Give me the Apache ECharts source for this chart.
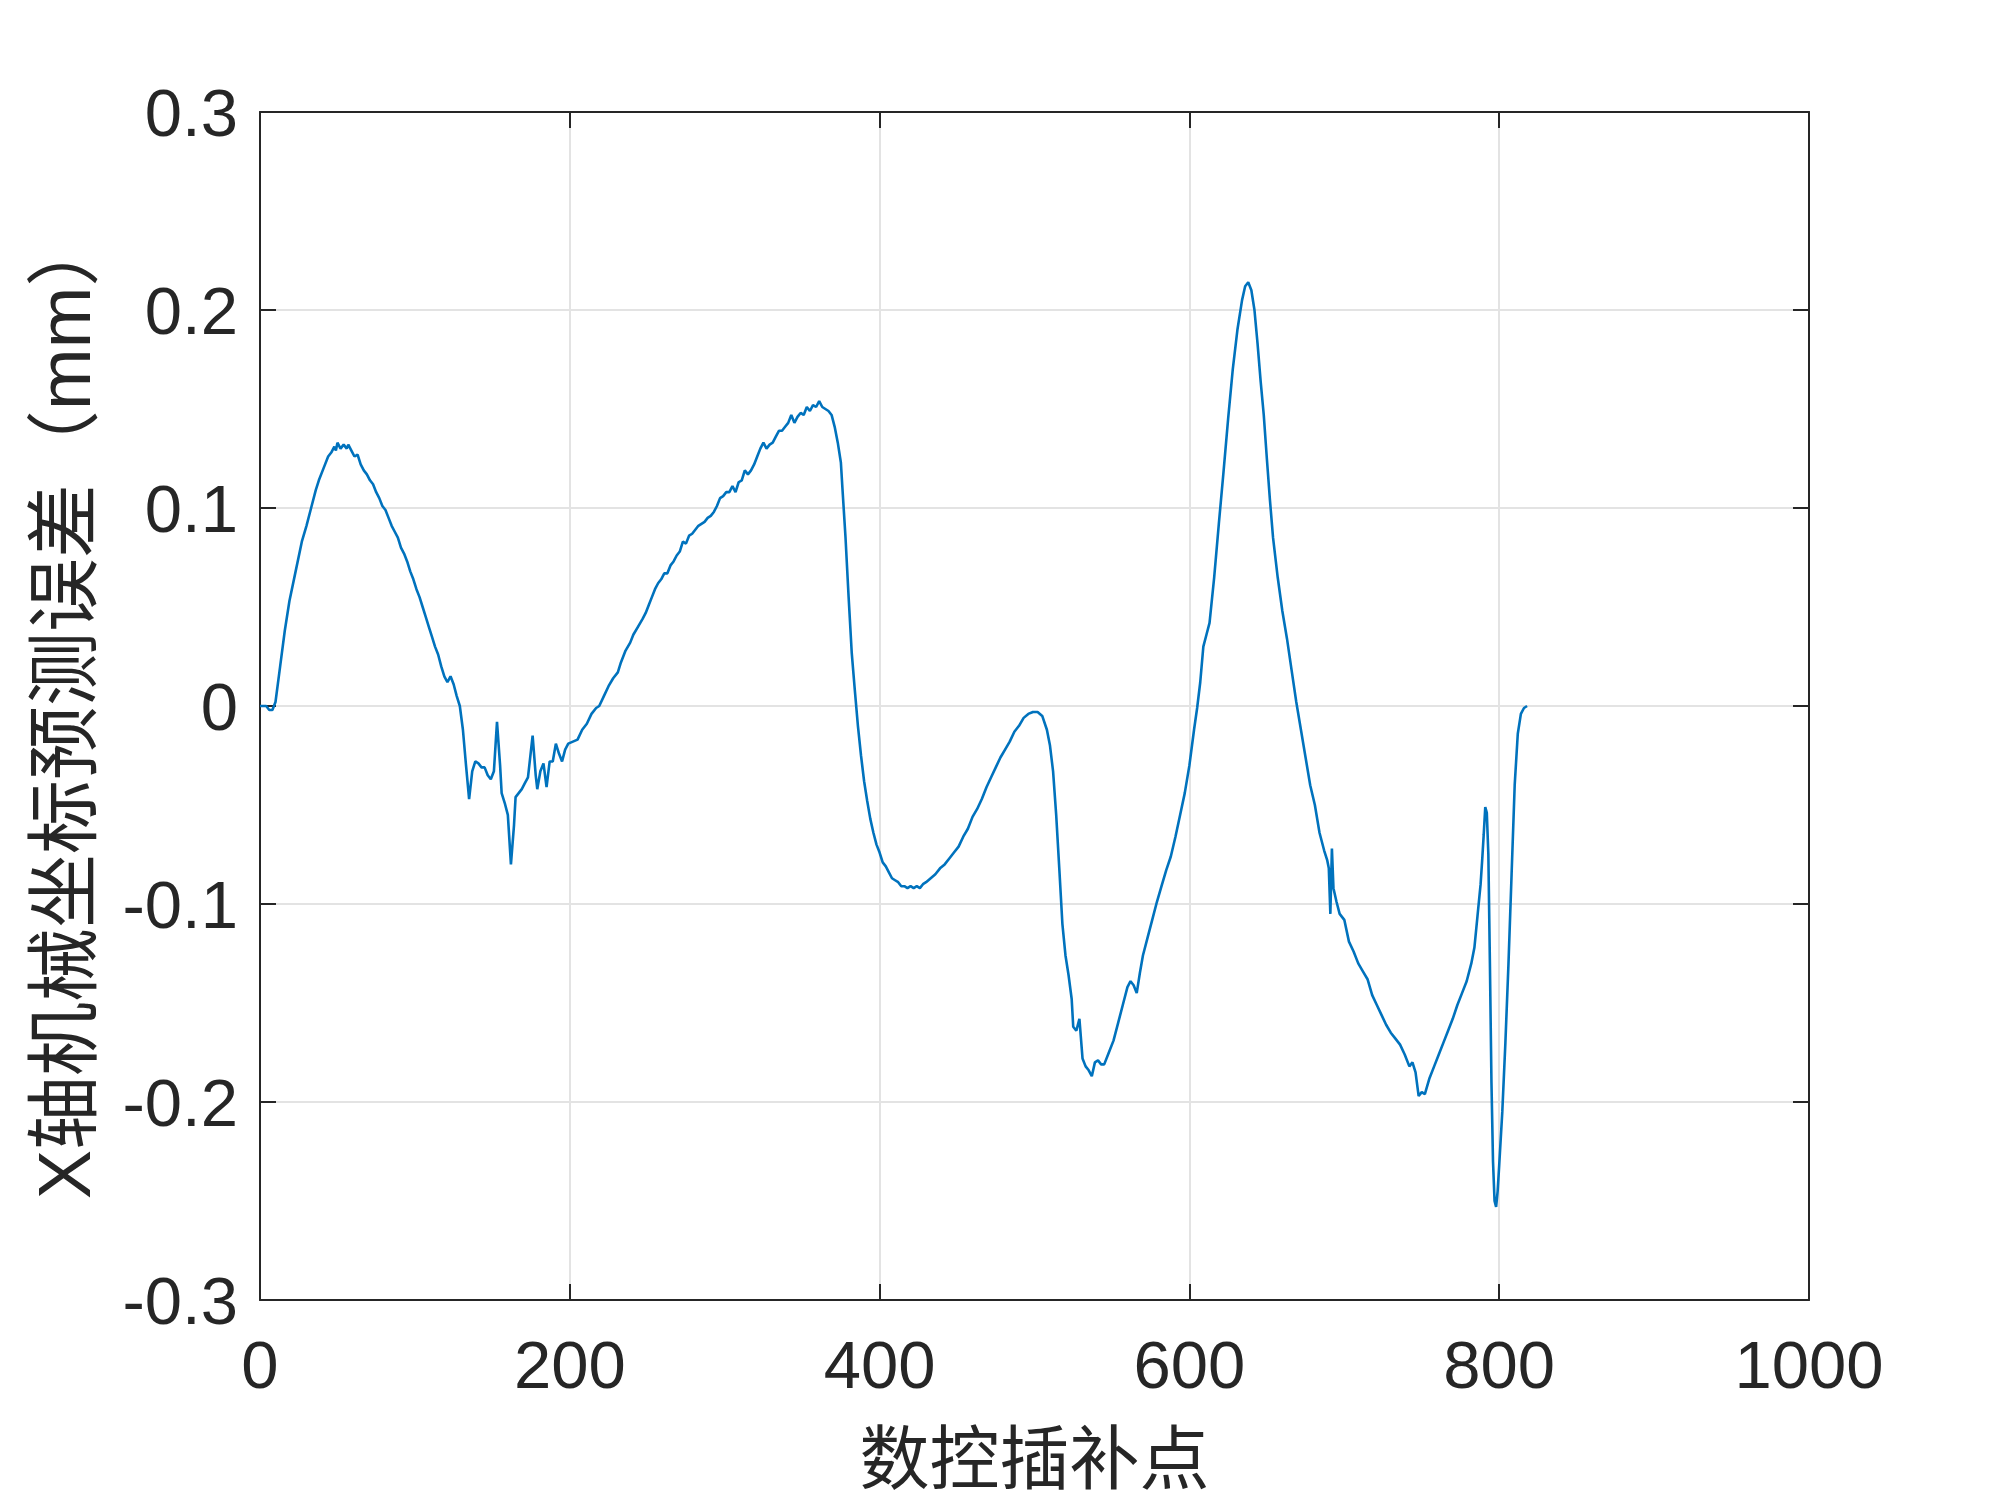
<!DOCTYPE html>
<html>
<head>
<meta charset="utf-8">
<script src="https://cdn.jsdelivr.net/npm/echarts@6/dist/echarts.min.js"></script>
<style>
html,body{margin:0;padding:0;background:#fff;}
#main{width:2000px;height:1500px;}
</style>
</head>
<body>
<div id="main"></div>
<script>
// 插补点序号
var sampleIdx = [
0,4,6,8,10,13,16,19,23,27,30,33,36,38,41,44,46,48,49,50,52,54,56,57,59,61,63,65,67,69,71,73,75,77,79,81,83,85,87,89,
91,93,95,97,99,101,103,105,107,109,111,113,115,117,119,121,123,125,127,129,131,133,135,137,139,141,143,145,147,149,
151,153,155,156,158,160,162,164,165,167,169,171,173,176,178,179,181,183,185,187,189,191,193,195,197,199,202,205,208,211,
214,217,219,222,225,228,231,233,236,239,241,244,247,249,251,253,255,257,259,261,263,265,267,269,271,273,275,277,279,281,
283,285,287,289,291,293,295,297,299,301,303,305,307,309,311,313,315,317,319,321,323,325,327,329,331,333,335,337,339,341,
343,345,347,349,351,353,355,357,359,361,363,365,367,369,371,373,375,376,378,380,382,384,386,388,390,392,394,396,398,400,
402,404,406,408,410,412,414,416,418,420,422,424,426,428,430,433,436,439,442,445,448,451,454,457,460,463,466,469,472,475,
478,481,484,487,490,493,496,499,502,505,508,510,512,514,516,518,520,522,524,525,527,529,531,533,535,537,539,541,543,545,
548,551,554,557,560,562,564,566,568,570,573,576,579,582,585,588,591,594,597,600,603,605,607,609,611,613,616,619,622,625,
628,631,634,636,638,640,642,644,646,648,650,652,654,657,660,663,666,669,672,675,678,681,684,687,689,690,691,692,693,695,
697,700,703,706,709,712,715,718,721,724,727,730,733,736,739,742,744,746,748,750,752,755,758,761,764,767,770,773,776,779,
782,784,786,788,789,790,791,792,793,794,795,796,797,798,799,800,802,804,806,808,810,812,814,816,818
];
// X轴机械坐标预测误差 (mm)
var predErr = [
0,0,-0.002,-0.002,0.002,0.02,0.038,0.053,0.068,0.083,0.091,0.100,0.109,0.114,0.120,0.126,0.128,0.131,0.129,0.133,0.130,0.132,0.130,0.132,0.129,0.126,0.127,0.122,0.119,0.117,0.114,0.112,0.108,0.105,0.101,0.099,0.095,0.091,0.088,0.085,
0.080,0.077,0.073,0.068,0.064,0.059,0.055,0.050,0.045,0.040,0.035,0.030,0.026,0.020,0.015,0.012,0.015,0.011,0.005,0.000,-0.012,-0.030,-0.047,-0.033,-0.028,-0.029,-0.031,-0.031,-0.035,-0.037,
-0.033,-0.008,-0.030,-0.044,-0.049,-0.055,-0.080,-0.060,-0.046,-0.044,-0.042,-0.039,-0.036,-0.015,-0.035,-0.042,-0.033,-0.029,-0.041,-0.028,-0.028,-0.019,-0.024,-0.028,-0.022,-0.019,-0.018,-0.017,-0.012,-0.009,
-0.004,-0.001,0.000,0.005,0.010,0.014,0.017,0.022,0.028,0.032,0.036,0.040,0.044,0.047,0.051,0.055,0.059,0.062,0.064,0.067,0.067,0.071,0.073,0.076,0.078,0.083,0.082,0.086,0.087,0.089,
0.091,0.092,0.093,0.095,0.096,0.098,0.101,0.105,0.106,0.108,0.108,0.111,0.108,0.113,0.114,0.119,0.117,0.119,0.122,0.126,0.130,0.133,0.130,0.132,0.133,0.136,0.139,0.139,0.141,0.143,
0.147,0.143,0.146,0.148,0.147,0.151,0.149,0.152,0.151,0.154,0.151,0.150,0.149,0.147,0.141,0.133,0.123,0.110,0.085,0.055,0.027,0.008,-0.010,-0.025,-0.038,-0.048,-0.057,-0.064,-0.070,-0.074,
-0.079,-0.081,-0.084,-0.087,-0.088,-0.089,-0.091,-0.091,-0.092,-0.091,-0.092,-0.091,-0.092,-0.090,-0.089,-0.087,-0.085,-0.082,-0.080,-0.077,-0.074,-0.071,-0.066,-0.062,-0.056,-0.052,-0.047,-0.041,-0.036,-0.031,
-0.026,-0.022,-0.018,-0.013,-0.010,-0.006,-0.004,-0.003,-0.003,-0.005,-0.012,-0.020,-0.033,-0.055,-0.082,-0.110,-0.126,-0.136,-0.148,-0.162,-0.164,-0.158,-0.178,-0.182,-0.184,-0.187,-0.180,-0.179,-0.181,-0.181,
-0.175,-0.169,-0.160,-0.151,-0.142,-0.139,-0.141,-0.145,-0.135,-0.126,-0.117,-0.108,-0.099,-0.091,-0.083,-0.076,-0.066,-0.055,-0.044,-0.030,-0.012,-0.001,0.012,0.030,0.036,0.042,0.065,0.092,0.118,0.145,
0.170,0.190,0.205,0.212,0.214,0.210,0.200,0.183,0.164,0.147,0.125,0.104,0.085,0.065,0.048,0.034,0.018,0.002,-0.012,-0.026,-0.040,-0.050,-0.064,-0.073,-0.078,-0.082,-0.105,-0.072,-0.092,-0.099,
-0.105,-0.108,-0.119,-0.124,-0.130,-0.134,-0.138,-0.146,-0.151,-0.156,-0.161,-0.165,-0.168,-0.171,-0.176,-0.182,-0.180,-0.185,-0.197,-0.195,-0.196,-0.188,-0.182,-0.176,-0.170,-0.164,-0.158,-0.151,-0.145,-0.139,
-0.130,-0.122,-0.106,-0.090,-0.078,-0.065,-0.051,-0.054,-0.075,-0.130,-0.190,-0.230,-0.250,-0.253,-0.245,-0.232,-0.205,-0.170,-0.130,-0.085,-0.040,-0.014,-0.004,-0.001,0
];

var lineData = sampleIdx.map(function(x, i){ return [x, predErr[i]]; });

var axisColor = '#262626';
var gridColor = '#e3e3e3';
var latinFont = '"Liberation Sans", Arial, "Noto Sans CJK SC", sans-serif';

var myChart = echarts.init(document.getElementById('main'));

var option = {
    animation: false,
    backgroundColor: '#fff',
    grid: {
        left: 260,
        right: 191,
        top: 112,
        bottom: 200
    },
    xAxis: [
        {
            type: 'value',
            min: 0,
            max: 1000,
            interval: 200,
            name: '数控插补点',
            nameLocation: 'middle',
            nameGap: 122,
            nameTextStyle: { fontSize: 70, color: axisColor, fontFamily: '"Noto Sans CJK SC", sans-serif' },
            axisLine: { show: true, onZero: false, lineStyle: { color: axisColor, width: 2 } },
            axisTick: { show: true, inside: true, length: 16, lineStyle: { color: axisColor, width: 2 } },
            axisLabel: {
                fontSize: 67,
                color: axisColor,
                fontFamily: latinFont,
                margin: 36,
                formatter: function(v){ return String(v); }
            },
            splitLine: { show: true, lineStyle: { color: gridColor, width: 2 } }
        },
        {
            type: 'value',
            position: 'top',
            min: 0,
            max: 1000,
            interval: 200,
            axisLine: { show: true, onZero: false, lineStyle: { color: axisColor, width: 2 } },
            axisTick: { show: true, inside: true, length: 16, lineStyle: { color: axisColor, width: 2 } },
            axisLabel: { show: false },
            splitLine: { show: false }
        }
    ],
    yAxis: [
        {
            type: 'value',
            min: -0.3,
            max: 0.3,
            interval: 0.1,
            name: 'X轴机械坐标预测误差（mm）',
            nameLocation: 'middle',
            nameGap: 153,
            nameTextStyle: { fontSize: 74, color: axisColor, fontFamily: latinFont },
            axisLine: { show: true, onZero: false, lineStyle: { color: axisColor, width: 2 } },
            axisTick: { show: true, inside: true, length: 16, lineStyle: { color: axisColor, width: 2 } },
            axisLabel: {
                fontSize: 67,
                color: axisColor,
                fontFamily: latinFont,
                margin: 22,
                verticalAlign: 'top',
                lineHeight: 12,
                formatter: function(v){
                    if (Math.abs(v) < 1e-9) return '0';
                    return v.toFixed(1);
                }
            },
            splitLine: { show: true, lineStyle: { color: gridColor, width: 2 } }
        },
        {
            type: 'value',
            position: 'right',
            min: -0.3,
            max: 0.3,
            interval: 0.1,
            axisLine: { show: true, onZero: false, lineStyle: { color: axisColor, width: 2 } },
            axisTick: { show: true, inside: true, length: 16, lineStyle: { color: axisColor, width: 2 } },
            axisLabel: { show: false },
            splitLine: { show: false }
        }
    ],
    series: [
        {
            name: '预测误差',
            type: 'line',
            data: lineData,
            showSymbol: false,
            symbol: 'none',
            lineStyle: { color: '#0072BD', width: 2.6 },
            itemStyle: { color: '#0072BD' }
        }
    ]
};

myChart.setOption(option);
</script>
</body>
</html>
